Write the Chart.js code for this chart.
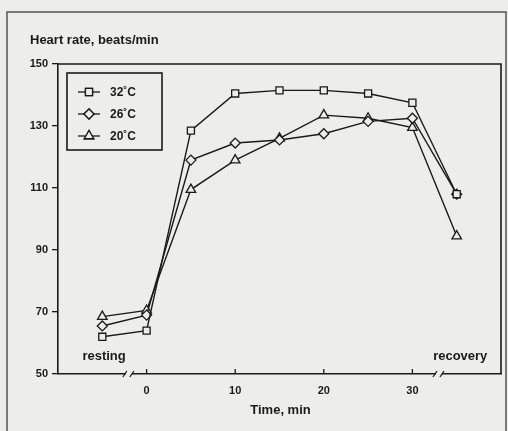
<!DOCTYPE html>
<html>
<head>
<meta charset="utf-8">
<script src="https://cdn.jsdelivr.net/npm/chart.js@4"></script>
<style>
  html, body { margin: 0; padding: 0; background: #ededeb; }
  #wrap { width: 508px; height: 431px; }
</style>
</head>
<body>
<div id="wrap"><canvas id="hrChart" width="508" height="431"></canvas></div>
<script>
const timePoints = [-5, 0, 5, 10, 15, 20, 25, 30, 35];
const hr32 = [62, 64, 128.5, 140.5, 141.5, 141.5, 140.5, 137.5, 108];
const hr26 = [65.5, 69, 119, 124.5, 125.5, 127.5, 131.5, 132.5, 108];
const hr20 = [68.5, 70.5, 109.5, 119, 126, 133.5, 132.5, 129.5, 94.5];
const seriesLabels = ["32\u02DAC", "26\u02DAC", "20\u02DAC"];
const xTicks = [0, 10, 20, 30];
const yTicks = [50, 70, 90, 110, 130, 150];

const paper = "#ededeb";
const ink = "#1a1a1a";
const font = "'Liberation Sans', Arial, sans-serif";

const toXY = (vals) => vals.map((v, i) => ({ x: timePoints[i], y: v }));

const styles = ["rect", "rectRot", "triangle"];
const radii = [5, 5, 5.5];
const series = [hr32, hr26, hr20];

const datasets = series.map((vals, i) => ({
	label: seriesLabels[i],
	data: toXY(vals),
	borderColor: ink,
	borderWidth: 1.4,
	backgroundColor: paper,
	pointStyle: styles[i],
	pointRadius: radii[i],
	pointBorderWidth: 1.3,
	pointBorderColor: ink,
	pointBackgroundColor: paper,
	tension: 0,
}));

// extra drawing: frame, legend box, axis breaks, labels
const decor = {
	id: "decor",
	beforeDraw(chart) {
		const ctx = chart.ctx;
		ctx.save();
		ctx.fillStyle = paper;
		ctx.fillRect(0, 0, chart.width, chart.height);
		ctx.restore();
	},
	afterDraw(chart) {
		const ctx = chart.ctx;
		const a = chart.chartArea;
		const xs = chart.scales.x;
		ctx.save();
		ctx.strokeStyle = ink;
		ctx.fillStyle = ink;

		// outer figure frame
		ctx.lineWidth = 1.5;
		ctx.strokeStyle = "#555";
		ctx.strokeRect(7, 12, 499, 440);
		ctx.strokeStyle = ink;

		// top and right sides of plot box
		ctx.lineWidth = 1.6;
		ctx.beginPath();
		ctx.moveTo(a.left, a.top);
		ctx.lineTo(a.right, a.top);
		ctx.lineTo(a.right, a.bottom);
		ctx.stroke();

		// inward x ticks
		ctx.lineWidth = 1.3;
		xTicks.forEach((v) => {
			const px = xs.getPixelForValue(v);
			ctx.beginPath();
			ctx.moveTo(px, a.bottom);
			ctx.lineTo(px, a.bottom - 5);
			ctx.stroke();
		});

		// axis breaks
		[-2, 33].forEach((v) => {
			const px = xs.getPixelForValue(v);
			ctx.fillStyle = paper;
			ctx.fillRect(px - 3, a.bottom - 2, 6, 4);
			ctx.lineWidth = 1.3;
			ctx.beginPath();
			ctx.moveTo(px - 6, a.bottom + 3);
			ctx.lineTo(px - 2, a.bottom - 3);
			ctx.moveTo(px + 1, a.bottom + 3);
			ctx.lineTo(px + 5, a.bottom - 3);
			ctx.stroke();
		});

		// labels
		ctx.fillStyle = ink;
		ctx.font = "bold 13px " + font;
		ctx.textBaseline = "middle";
		ctx.textAlign = "left";
		ctx.fillText("Heart rate, beats/min", 30, 40);
		ctx.textAlign = "center";
		ctx.fillText("Time, min", (a.left + a.right) / 2 + 1, 410);
		ctx.fillText("resting", xs.getPixelForValue(-4.8), a.bottom - 18);
		ctx.fillText("recovery", xs.getPixelForValue(35.4), a.bottom - 18);

		// legend box
		const lx = a.left + 9, ly = a.top + 9;
		ctx.lineWidth = 1.6;
		ctx.strokeRect(lx, ly, 95, 77);
		ctx.font = "bold 12px " + font;
		ctx.textAlign = "left";
		datasets.forEach((ds, i) => {
			const cy = ly + 19 + i * 22;
			ctx.lineWidth = 1.3;
			ctx.strokeStyle = ink;
			ctx.beginPath();
			ctx.moveTo(lx + 11, cy);
			ctx.lineTo(lx + 33, cy);
			ctx.stroke();
			ctx.fillStyle = paper;
			Chart.helpers.drawPoint(ctx, { pointStyle: ds.pointStyle, radius: ds.pointRadius, borderWidth: 1.3 }, lx + 22, cy);
			ctx.fill();
			ctx.stroke();
			ctx.fillStyle = ink;
			ctx.fillText(ds.label, lx + 43, cy + 1);
		});
		ctx.restore();
	},
};

new Chart(document.getElementById("hrChart"), {
	type: "line",
	data: { datasets: datasets },
	options: {
		responsive: false,
		animation: false,
		layout: { padding: { left: 0, right: 7, top: 64, bottom: 0 } },
		plugins: { legend: { display: false }, tooltip: { enabled: false } },
		scales: {
			x: {
				type: "linear",
				min: -10,
				max: 40,
				afterBuildTicks: (scale) => {
					scale.ticks = xTicks.map((v) => ({ value: v }));
				},
				afterFit: (scale) => {
					scale.height = 57;
				},
				grid: { drawOnChartArea: false, drawTicks: false },
				border: { display: true, color: ink, width: 1.6 },
				ticks: {
					color: ink,
					padding: 10,
					font: { family: font, size: 11, weight: "bold" },
				},
			},
			y: {
				min: 50,
				max: 150,
				afterBuildTicks: (scale) => {
					scale.ticks = yTicks.map((v) => ({ value: v }));
				},
				afterFit: (scale) => {
					scale.width = 58;
				},
				grid: { drawOnChartArea: false, drawTicks: true, tickLength: 6, color: ink, lineWidth: 1.3 },
				border: { display: true, color: ink, width: 1.6 },
				ticks: {
					color: ink,
					padding: 4,
					font: { family: font, size: 11, weight: "bold" },
				},
			},
		},
	},
	plugins: [decor],
});
</script>
</body>
</html>
